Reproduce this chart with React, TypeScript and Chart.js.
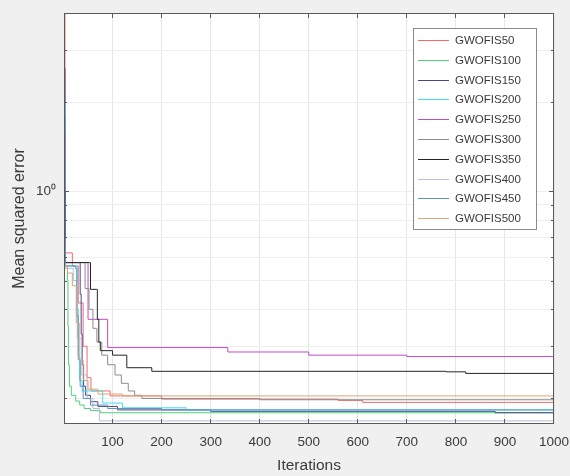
import React, { useEffect, useRef } from 'react';
import { Chart, registerables } from 'chart.js';

Chart.register(...registerables);

const FONT = '"Liberation Sans", Arial, Helvetica, sans-serif';
const TEXT_COLOR = '#3a3a3a';
const AXIS_COLOR = '#5a5a5a';

const seriesNames = [
  'GWOFIS50', 'GWOFIS100', 'GWOFIS150', 'GWOFIS200', 'GWOFIS250',
  'GWOFIS300', 'GWOFIS350', 'GWOFIS400', 'GWOFIS450', 'GWOFIS500',
];
const seriesColors = [
  '#f06a6a', '#4fd07a', '#46468e', '#3fdcf0', '#c04cc8',
  '#8c8c8c', '#262626', '#b4c0d8', '#5f93b8', '#d9a777',
];

// [iteration, mean squared error]
const s50: [number, number][] = [[1, 6], [3, 0.62], [18, 0.56], [30, 0.42], [40, 0.3], [48, 0.235], [56, 0.212], [95, 0.204], [200, 0.199], [560, 0.197], [610, 0.194], [1000, 0.194]];
const s100: [number, number][] = [[1, 1.3], [3, 0.56], [8, 0.5], [9, 0.35], [10, 0.26], [12, 0.22], [16, 0.205], [25, 0.196], [33, 0.19], [42, 0.185], [55, 0.182], [75, 0.179], [1000, 0.178]];
const s150: [number, number][] = [[1, 2.6], [3, 0.575], [32, 0.575], [34, 0.45], [36, 0.33], [38, 0.26], [41, 0.22], [45, 0.205], [55, 0.195], [70, 0.188], [110, 0.183], [300, 0.181], [880, 0.179], [1000, 0.176]];
const s200: [number, number][] = [[1, 2.0], [3, 0.56], [26, 0.56], [28, 0.4], [30, 0.28], [33, 0.23], [38, 0.212], [79, 0.21], [80, 0.193], [120, 0.186], [250, 0.183], [1000, 0.182]];
const s250: [number, number][] = [[1, 1.6], [3, 0.575], [49, 0.575], [50, 0.37], [90, 0.297], [335, 0.287], [500, 0.28], [700, 0.277], [1000, 0.275]];
const s300: [number, number][] = [[1, 0.9], [3, 0.575], [42, 0.575], [44, 0.47], [52, 0.4], [60, 0.345], [68, 0.31], [78, 0.28], [90, 0.26], [105, 0.24], [118, 0.225], [132, 0.212], [145, 0.205], [160, 0.2], [400, 0.198], [1000, 0.196]];
const s350: [number, number][] = [[1, 1.0], [3, 0.575], [53, 0.575], [55, 0.467], [67, 0.467], [69, 0.37], [72, 0.31], [75, 0.29], [100, 0.28], [129, 0.254], [180, 0.247], [780, 0.246], [820, 0.243], [1000, 0.243]];
const s400: [number, number][] = [[1, 0.7], [3, 0.55], [20, 0.5], [28, 0.32], [36, 0.24], [48, 0.2], [60, 0.185], [73, 0.168], [1000, 0.166]];
const s450: [number, number][] = [[1, 1.8], [3, 0.56], [24, 0.55], [27, 0.38], [30, 0.27], [34, 0.22], [40, 0.2], [55, 0.19], [90, 0.185], [200, 0.183], [1000, 0.182]];
const s500: [number, number][] = [[1, 0.56], [8, 0.53], [18, 0.48], [26, 0.36], [32, 0.27], [40, 0.23], [50, 0.215], [70, 0.207], [120, 0.204], [1000, 0.203]];

const seriesData = [s50, s100, s150, s200, s250, s300, s350, s400, s450, s500];

const xTickValues = [100, 200, 300, 400, 500, 600, 700, 800, 900, 1000];
const yTickValues = [0.2, 0.3, 0.4, 0.5, 0.6, 0.7, 0.8, 0.9, 1, 2, 3, 4];

const framePlugin = {
  id: 'matlabFrame',
  beforeDraw(chart: any) {
    const { ctx, chartArea: a } = chart;
    ctx.save();
    ctx.fillStyle = '#ffffff';
    ctx.fillRect(a.left, a.top, a.right - a.left, a.bottom - a.top);
    ctx.restore();
  },
  afterDatasetsDraw(chart: any) {
    const { ctx, chartArea: a, scales } = chart;
    ctx.save();
    ctx.strokeStyle = AXIS_COLOR;
    ctx.lineWidth = 1;
    ctx.strokeRect(a.left + 0.5, a.top + 0.5, a.right - a.left - 1, a.bottom - a.top - 1);
    ctx.beginPath();
    for (const v of xTickValues) {
      const px = Math.round(scales.x.getPixelForValue(v)) - 0.5;
      ctx.moveTo(px, a.bottom);
      ctx.lineTo(px, a.bottom - 5);
      ctx.moveTo(px, a.top);
      ctx.lineTo(px, a.top + 5);
    }
    for (const v of yTickValues) {
      const py = Math.round(scales.y.getPixelForValue(v)) + 0.5;
      const len = v === 1 ? 5 : 3;
      ctx.moveTo(a.left, py);
      ctx.lineTo(a.left + len, py);
      ctx.moveTo(a.right, py);
      ctx.lineTo(a.right - len, py);
    }
    ctx.stroke();
    ctx.restore();
  },
  afterDraw(chart: any) {
    const { ctx } = chart;
    const bx = 413.5, by = 28.5, bw = 123, bh = 201;
    ctx.save();
    ctx.fillStyle = '#ffffff';
    ctx.fillRect(bx, by, bw, bh);
    ctx.strokeStyle = '#8a8a8a';
    ctx.lineWidth = 1;
    ctx.strokeRect(bx, by, bw, bh);
    ctx.font = `11.5px ${FONT}`;
    ctx.textBaseline = 'middle';
    ctx.textAlign = 'left';
    chart.data.datasets.forEach((ds: any, i: number) => {
      const yy = Math.round(40 + i * 19.8) + 0.5;
      ctx.strokeStyle = ds.borderColor;
      ctx.beginPath();
      ctx.moveTo(418, yy);
      ctx.lineTo(449, yy);
      ctx.stroke();
      ctx.fillStyle = TEXT_COLOR;
      ctx.fillText(ds.label, 455, yy);
    });
    ctx.restore();
  },
};

export default function App() {
  const ref = useRef<HTMLCanvasElement>(null);
  useEffect(() => {
    const canvas = ref.current;
    if (!canvas) return;
    const chart = new Chart(canvas, {
      type: 'line',
      data: {
        datasets: seriesData.map((s, i) => ({
          label: seriesNames[i],
          data: s.map(([x, y]) => ({ x, y })),
          borderColor: seriesColors[i],
          backgroundColor: seriesColors[i],
          borderWidth: 1,
          pointRadius: 0,
          stepped: 'before' as const,
          fill: false,
          order: 10 - i,
        })),
      },
      options: {
        animation: false,
        responsive: false,
        devicePixelRatio: 1,
        layout: { padding: { top: 13, right: 16, left: 0, bottom: 0 } },
        plugins: {
          legend: { display: false },
          tooltip: { enabled: false },
        },
        scales: {
          x: {
            type: 'linear',
            min: 1,
            max: 1000,
            grid: { color: '#e6e6e6', drawTicks: false },
            border: { display: false },
            ticks: {
              autoSkip: false,
              maxRotation: 0,
              padding: 10,
              color: TEXT_COLOR,
              font: { family: FONT, size: 13.5 },
              callback: (v: any) => String(v),
            },
            afterBuildTicks: (s: any) => {
              s.ticks = xTickValues.map((v) => ({ value: v }));
            },
            afterFit: (s: any) => {
              s.height = 52;
              s.paddingLeft = 0;
              s.paddingRight = 0;
            },
            title: {
              display: true,
              text: 'Iterations',
              color: TEXT_COLOR,
              font: { family: FONT, size: 15.5 },
              padding: { top: 0, bottom: 1 },
            },
          },
          y: {
            type: 'logarithmic',
            min: 0.164,
            max: 4.0,
            grid: { color: '#eeeeee', drawTicks: false },
            border: { display: false },
            ticks: {
              autoSkip: false,
              padding: 8,
              color: TEXT_COLOR,
              font: { family: FONT, size: 13.5 },
              callback: (v: any) => (Math.abs(v - 1) < 1e-9 ? '10\u2070' : ''),
            },
            afterBuildTicks: (s: any) => {
              s.ticks = yTickValues.map((v) => ({ value: v }));
            },
            afterFit: (s: any) => {
              s.width = 64;
              s.paddingTop = 0;
              s.paddingBottom = 0;
            },
            title: {
              display: true,
              text: 'Mean squared error',
              color: TEXT_COLOR,
              font: { family: FONT, size: 16 },
              padding: { top: 10, bottom: 0 },
            },
          },
        },
      },
      plugins: [framePlugin],
    });
    return () => chart.destroy();
  }, []);
  return (
    <div style={{ position: 'fixed', left: 0, top: 0, width: 570, height: 476, background: '#f0f0f0' }}>
      <canvas ref={ref} width={570} height={476} style={{ display: 'block', width: 570, height: 476 }} />
    </div>
  );
}
